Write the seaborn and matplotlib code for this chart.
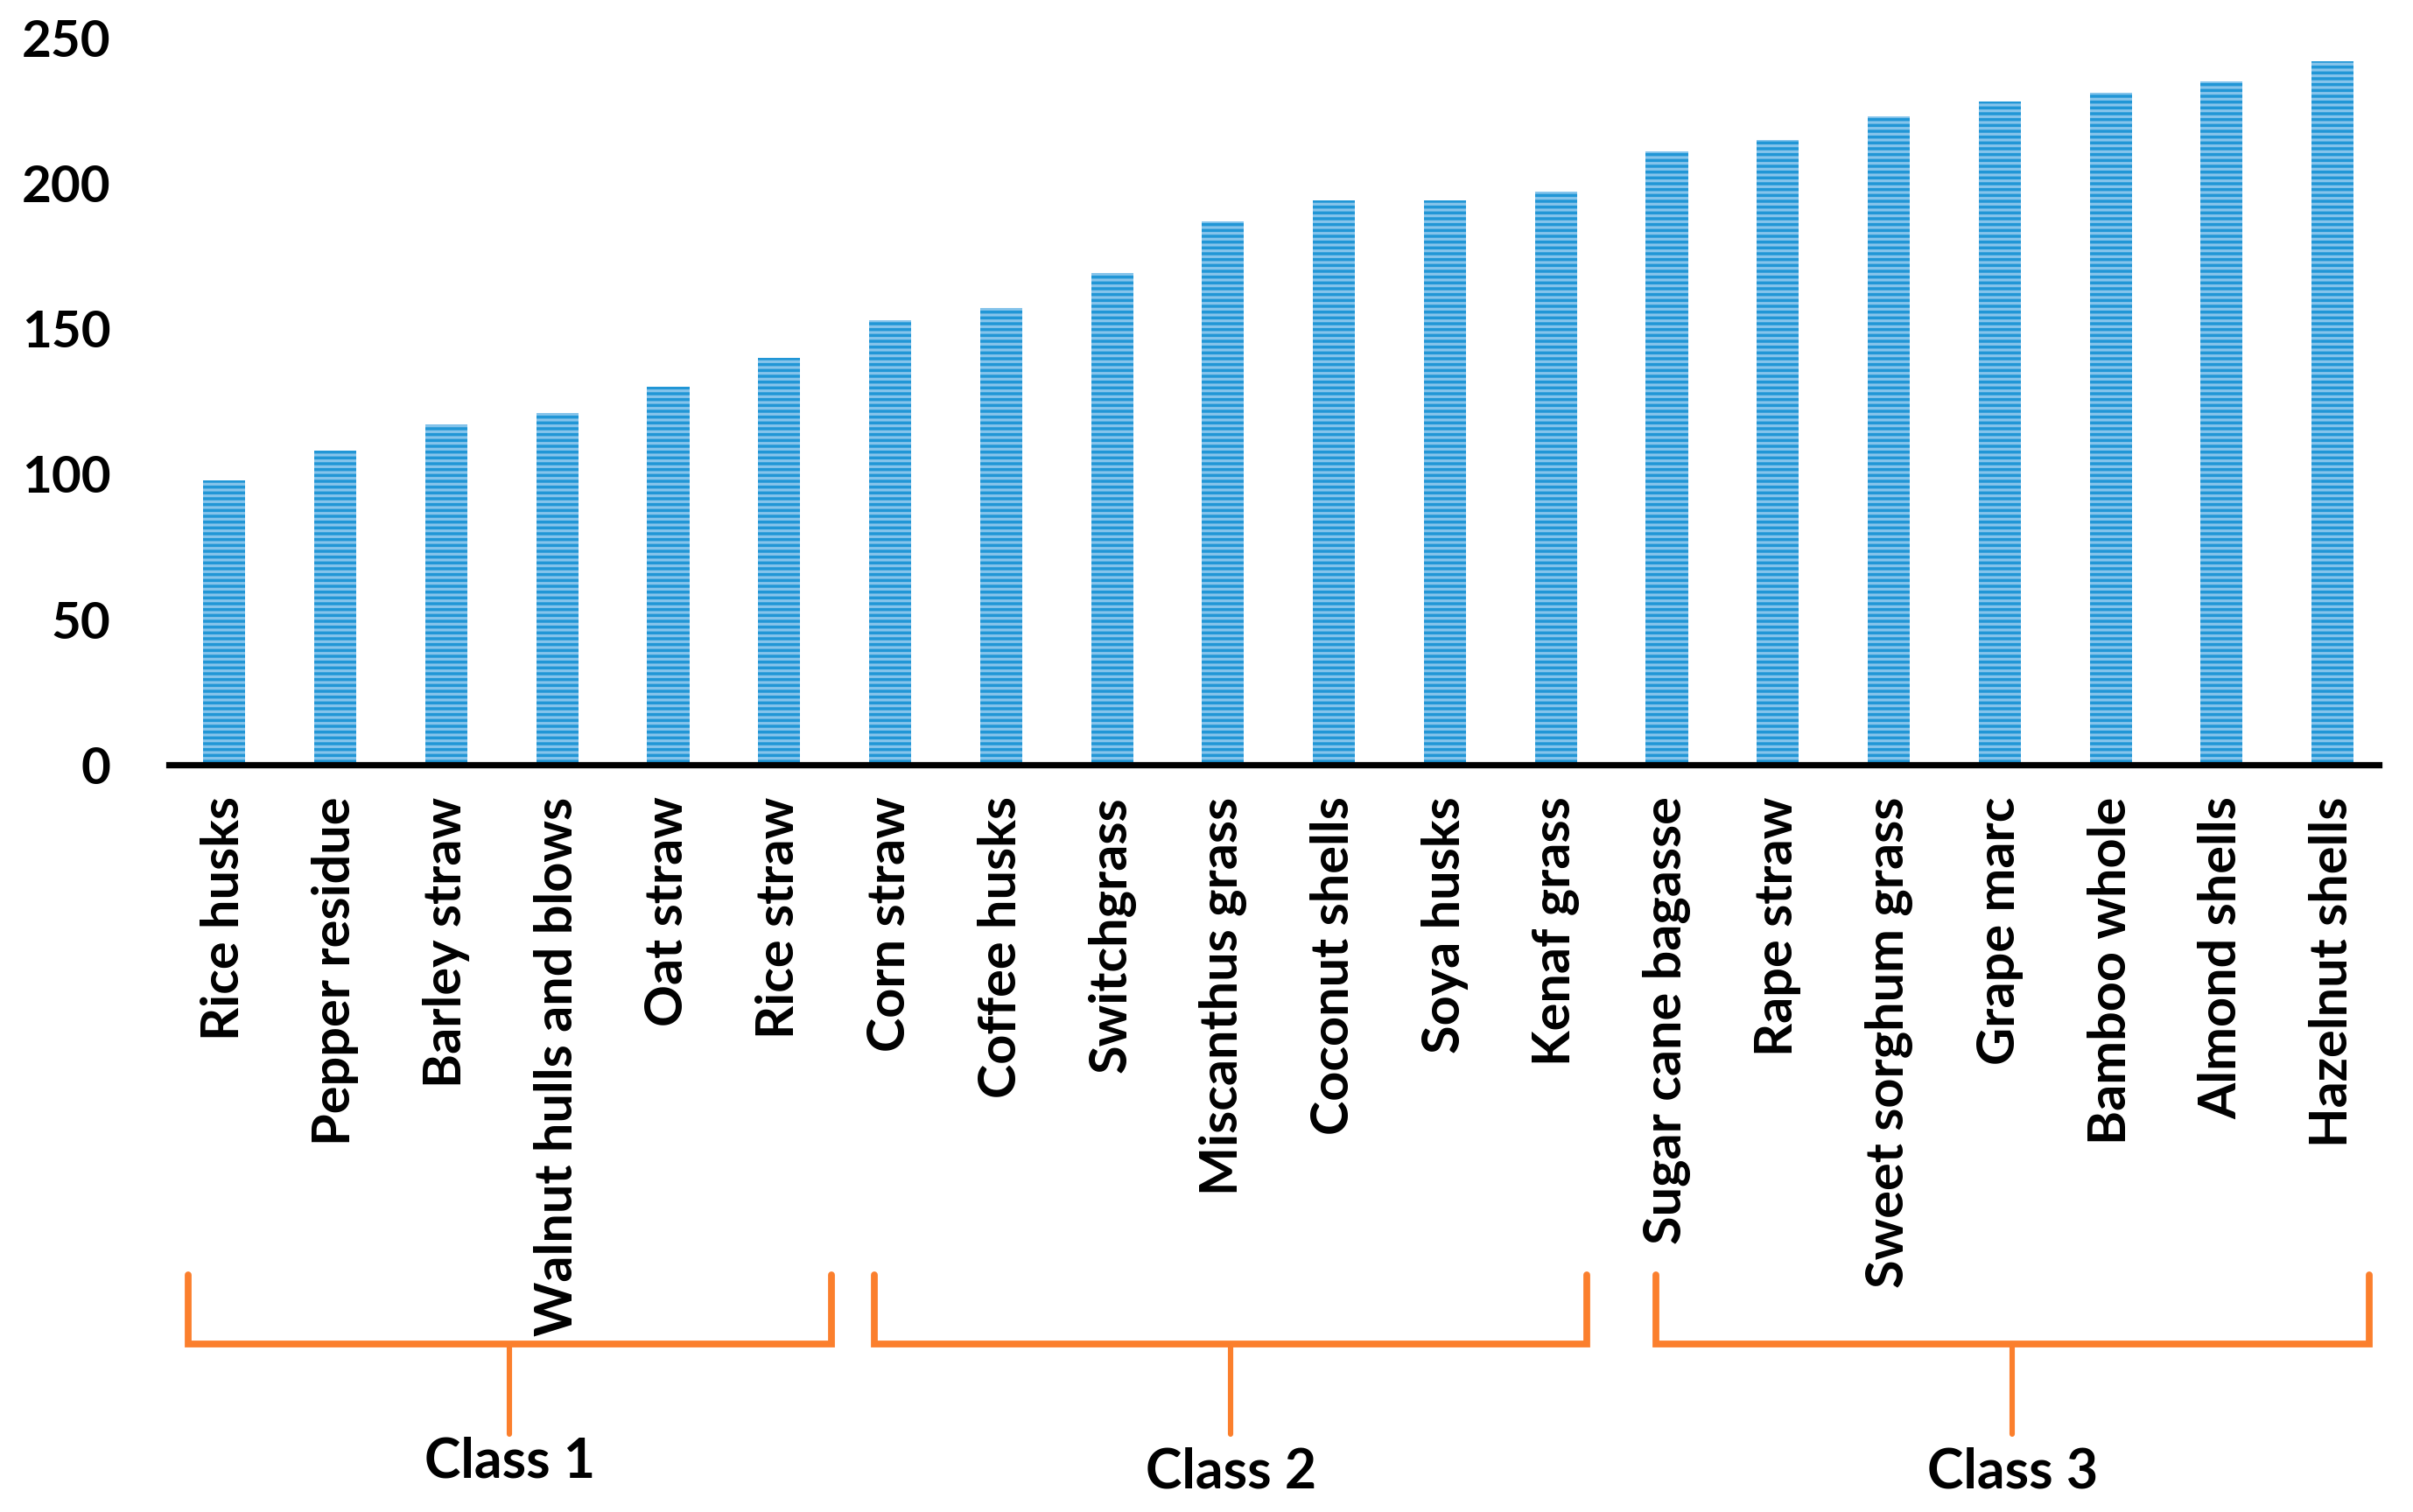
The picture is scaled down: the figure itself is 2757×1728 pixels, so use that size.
"""
Bar chart of biomass materials grouped into three classes, with bracket annotations.
"""
import numpy as np
import pandas as pd
import matplotlib
matplotlib.use("Agg")
import matplotlib.pyplot as plt
import matplotlib.transforms as mtransforms
import seaborn as sns

# Data
materials = [
    "Rice husks", "Pepper residue", "Barley straw", "Walnut hulls and blows",
    "Oat straw", "Rice straw", "Corn straw", "Coffee husks", "Switchgrass",
    "Miscanthus grass", "Coconut shells", "Soya husks", "Kenaf grass",
    "Sugar cane bagasse", "Rape straw", "Sweet sorghum grass", "Grape marc",
    "Bamboo whole", "Almond shells", "Hazelnut shells",
]
values = [98, 108, 117, 121, 130, 140, 153, 157, 169, 187,
          194, 194, 197, 211, 215, 223, 228, 231, 235, 242]
y_ticks = [0, 50, 100, 150, 200, 250]

class_names = ["Class 1", "Class 2", "Class 3"]
class_first = [0, 6, 13]
class_last = [5, 12, 19]

# Styling
BAR_FACE = "#86C4EB"
BAR_STRIPE = "#2196D6"
ORANGE = "#FB7F2D"
FONT = ["Lato", "DejaVu Sans"]

sns.set_style("white")
plt.rcParams["font.family"] = FONT
plt.rcParams["font.weight"] = "bold"
plt.rcParams["text.color"] = "black"
plt.rcParams["xtick.color"] = "black"
plt.rcParams["ytick.color"] = "black"
plt.rcParams["hatch.linewidth"] = 1.25

df = pd.DataFrame({"material": materials, "value": values})

fig = plt.figure(figsize=(13.785, 8.64), dpi=200)
ax = fig.add_axes([0.070, 0.494, 0.916, 0.481])

sns.barplot(data=df, x="material", y="value", color=BAR_FACE, saturation=1,
            width=0.38, ax=ax, hatch="-----", edgecolor=BAR_STRIPE, linewidth=0)

ax.set_ylim(0, 250)
ax.set_xlim(-0.5, len(materials) - 0.58)
ax.set_yticks(y_ticks)
ax.set_yticklabels([str(t) for t in y_ticks], fontsize=21, fontweight="bold")
ax.set_xticks(range(len(materials)))
ax.set_xticklabels(materials, rotation=90, fontsize=21.4, fontweight="bold",
                   va="top", ha="center")
ax.tick_params(axis="y", length=0, pad=24, colors="black")
ax.tick_params(axis="x", length=0, pad=13, colors="black")
ax.set_xlabel("")
ax.set_ylabel("")

for side in ["top", "right", "left"]:
    ax.spines[side].set_visible(False)
ax.spines["bottom"].set_linewidth(2.6)
ax.spines["bottom"].set_color("black")
ax.grid(False)

# Class brackets (x in data units, y in axes fraction)
trans = mtransforms.blended_transform_factory(ax.transData, ax.transAxes)
left_pad = [0.33, 0.14, 0.10]
right_pad = [0.47, 0.28, 0.33]
label_y = [-0.958, -0.972, -0.972]
top_y, bot_y, stem_y = -0.701, -0.796, -0.920

for name, i0, i1, lp, rp, ly in zip(class_names, class_first, class_last,
                                     left_pad, right_pad, label_y):
    x0 = i0 - lp
    x1 = i1 + rp
    xm = (x0 + x1) / 2
    ax.plot([x0, x0, x1, x1], [top_y, bot_y, bot_y, top_y], color=ORANGE,
            lw=2.8, transform=trans, clip_on=False, solid_joinstyle="miter")
    ax.plot([xm, xm], [bot_y, stem_y], color=ORANGE, lw=2.2,
            transform=trans, clip_on=False)
    ax.text(xm, ly, name, transform=trans, ha="center", va="center",
            fontsize=22.5, fontweight="bold", family=FONT, color="black")

fig.savefig("out.png", dpi=200, facecolor="white")
plt.close(fig)
